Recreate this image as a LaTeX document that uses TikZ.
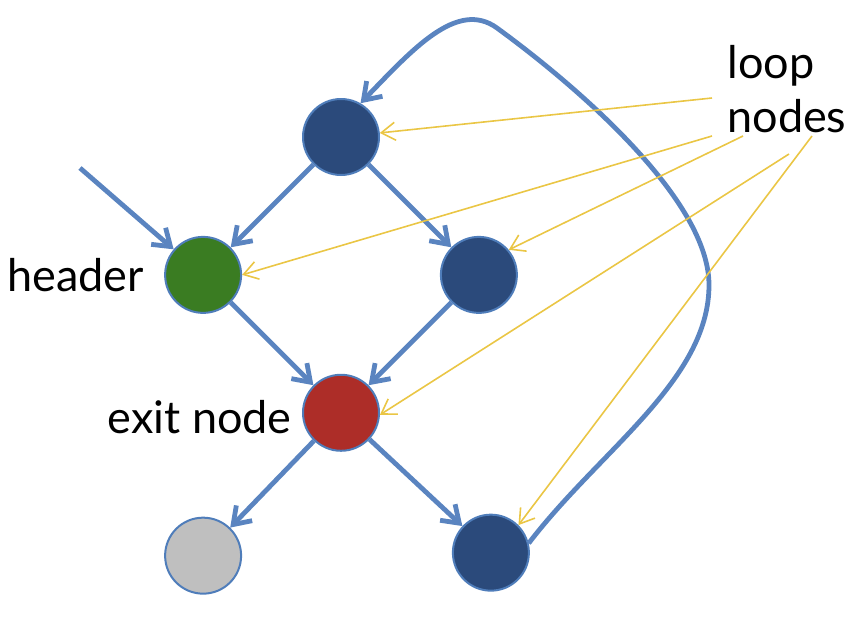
\documentclass[tikz,border=0pt]{standalone}
\usepackage{fontspec}
\setmainfont{Lato}
\usetikzlibrary{positioning, arrows.meta}
\definecolor{loopblue}{HTML}{2B4A7B}
\definecolor{headgreen}{HTML}{3A7C22}
\definecolor{exitred}{HTML}{AD2D28}
\definecolor{deadgray}{HTML}{BFBFBF}
\definecolor{rimblue}{HTML}{4F7DBA}
\definecolor{flowblue}{HTML}{5A84C0}
\definecolor{noteyellow}{HTML}{EAC645}
\tikzstyle{vertex} = [circle, draw=rimblue, line width=1pt, minimum size=38pt, inner sep=0pt]
\tikzstyle{arrow} = [draw=flowblue, line width=2.4pt, -{Straight Barb[length=8pt,width=11pt]}]
\tikzstyle{pointer} = [draw=noteyellow, line width=0.8pt, -{Straight Barb[length=7pt,width=9pt]}]
\tikzstyle{note} = [inner sep=0pt, font=\fontsize{22.5}{27}\selectfont]

\begin{document}
\begin{tikzpicture}[x=0.5pt, y=-0.5pt, node distance=97.5pt]
  \useasboundingbox (0,0) rectangle (868,622);
  \node (top) [vertex, fill=loopblue] at (341,137) {};
  \node (header) [vertex, fill=headgreen, below left of=top] {};
  \node (right) [vertex, fill=loopblue, below right of=top] {};
  \node (exit) [vertex, fill=exitred, below right of=header] {};
  \node (dead) [vertex, fill=deadgray, below left of=exit, yshift=-2.5pt] {};
  \node (latch) [vertex, fill=loopblue, below right of=exit, xshift=6pt, yshift=-1pt] {};

  \node (headertext) [note, left=10pt of header] {header};
  \node (exittext) [note, left=5pt of exit, yshift=-2pt] {exit node};
  \node (looptext) [note, align=left, anchor=north west] at (727,45) {loop\\nodes};

  \coordinate (entry) at (80,168);
  \coordinate (p1) at (712,98);
  \coordinate (p2) at (712,136);
  \coordinate (p3) at (743,136);
  \coordinate (p4) at (789,154);
  \coordinate (p5) at (812,136);

  \draw [arrow] (entry) -- (header);
  \draw [arrow] (top) -- (header);
  \draw [arrow] (top) -- (right);
  \draw [arrow] (header) -- (exit);
  \draw [arrow] (right) -- (exit);
  \draw [arrow] (exit) -- (dead);
  \draw [arrow] (exit) -- (latch);
  \draw [arrow] (latch.14) .. controls (600,450) and (709,380) .. (709,285)
    .. controls (709,200) and (578,87) .. (497,28)
    .. controls (457,-1) and (412,50) .. (top.60);

  \draw [pointer] (p1) -- (top);
  \draw [pointer] (p2) -- (header.east);
  \draw [pointer] (p3) -- (right.40);
  \draw [pointer] (p4) -- (exit.-3);
  \draw [pointer] (p5) -- (latch.45);
\end{tikzpicture}
\end{document}
